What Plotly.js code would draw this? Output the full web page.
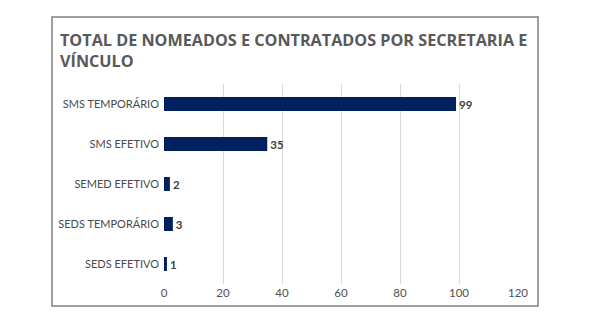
<!DOCTYPE html>
<html><head><meta charset="utf-8">
<script src="https://cdn.plot.ly/plotly-3.0.1.min.js"></script>
<style>html,body{margin:0;padding:0;background:#fff}#c{width:590px;height:324px}</style>
</head><body><div id="c"></div>
<script>
const categories = ["SMS TEMPORÁRIO", "SMS EFETIVO", "SEMED EFETIVO", "SEDS TEMPORÁRIO", "SEDS EFETIVO"];
const values = [99, 35, 2, 3, 1];
const xTicks = [0, 20, 40, 60, 80, 100, 120];

const trace = {
  type: 'bar', orientation: 'h',
  x: values, y: categories,
  marker: {color: '#002060'},
  text: values.map(String), textposition: 'outside', cliponaxis: false,
  textfont: {family: 'Lato, sans-serif', size: 11.5, color: '#404040', weight: 'bold'},
  hoverinfo: 'none'
};
const layout = {
  width: 590, height: 324,
  margin: {l: 164, r: 72, t: 84, b: 40},
  paper_bgcolor: '#fff', plot_bgcolor: '#fff',
  showlegend: false, bargap: 0.65,
  title: {
    text: 'TOTAL DE NOMEADOS E CONTRATADOS POR SECRETARIA E<br>VÍNCULO',
    font: {family: '"Open Sans", sans-serif', size: 16.2, color: '#595959', weight: 'bold'},
    xref: 'container', x: 60 / 590, xanchor: 'left',
    yref: 'container', y: 0.859, yanchor: 'top'
  },
  xaxis: {
    range: [0, 120], tickvals: xTicks, ticktext: xTicks.map(String),
    showgrid: true, gridcolor: '#d9d9d9', gridwidth: 1, zeroline: false,
    showline: false, ticks: '',
    tickfont: {family: 'Lato, sans-serif', size: 11.5, color: '#505050'}
  },
  yaxis: {
    autorange: 'reversed', showgrid: false, zeroline: false, showline: false, ticks: '',
    ticklabelstandoff: 4,
    tickfont: {family: 'Lato, sans-serif', size: 11, color: '#4a4a4a'}
  },
  shapes: [{
    type: 'rect', xref: 'paper', yref: 'paper',
    x0: (52 - 164) / 354, x1: (538 - 164) / 354,
    y0: (284 - 306) / 200, y1: (284 - 17) / 200,
    line: {color: '#7f7f7f', width: 1.5}, fillcolor: 'rgba(0,0,0,0)', layer: 'below'
  }]
};
Plotly.newPlot('c', [trace], layout, {displayModeBar: false, staticPlot: true});
</script></body></html>
